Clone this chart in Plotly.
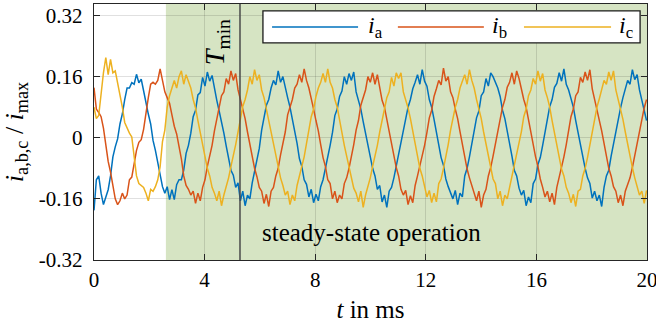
import plotly.graph_objects as go

# ---------------- data ----------------
DT_MS = 0.0854

i_a = [
    -0.19, -0.11, -0.10, -0.145, -0.175, -0.158, -0.136, -0.10, -0.05, -0.024,
    -0.003, 0.036, 0.062, 0.10, 0.13, 0.13, 0.144, 0.14, 0.166, 0.144,
    0.153, 0.123, 0.088, 0.062, 0.036, -0.007, -0.033, -0.067, -0.10, -0.128,
    -0.145, -0.128, -0.162, -0.136, -0.162, -0.123, -0.11, -0.11, -0.085, -0.041,
    -0.02,
    0.012, 0.055, 0.072, 0.112, 0.118, 0.158, 0.135, 0.172, 0.148, 0.163,
    0.128, 0.098, 0.07, 0.045, 0.012, -0.022, -0.05, -0.085, -0.098, -0.13,
    -0.118, -0.165, -0.14, -0.178, -0.15, -0.16, -0.118, -0.088, -0.06, -0.028,
    0.02, 0.05, 0.085, 0.1, 0.13, 0.15, 0.138, 0.175, 0.145, 0.16,
    0.13, 0.105, 0.08, 0.05, 0.018, -0.015, -0.055, -0.075, -0.11, -0.122,
    -0.155, -0.135, -0.17, -0.148, -0.165, -0.128, -0.11, -0.082, -0.05, -0.02,
    0.014, 0.058, 0.075, 0.108, 0.122, 0.16, 0.14, 0.168, 0.15, 0.172,
    0.12, 0.1, 0.075, 0.042, 0.01, -0.02, -0.05, -0.08, -0.1, -0.135,
    -0.125, -0.168, -0.15, -0.182, -0.14, -0.13, -0.105, -0.075, -0.045, -0.018,
    0.018, 0.045, 0.08, 0.1, 0.128, 0.145, 0.165, 0.14, 0.178, 0.148,
    0.135, 0.1, 0.08, 0.048, 0.015, -0.018, -0.052, -0.072, -0.108, -0.128,
    -0.145, -0.16, -0.138, -0.175, -0.145, -0.155, -0.1, -0.08, -0.05, -0.015,
    0.015, 0.052, 0.07, 0.11, 0.12, 0.155, 0.135, 0.17, 0.16, 0.145,
    0.13, 0.108, 0.072, 0.05, 0.02, -0.014, -0.048, -0.085, -0.1, -0.132,
    -0.15, -0.138, -0.178, -0.155, -0.17, -0.12, -0.108, -0.07, -0.052, -0.02,
    0.02, 0.048, 0.082, 0.1, 0.132, 0.142, 0.17, 0.148, 0.18, 0.14,
    0.125, 0.1, 0.08, 0.045, 0.012, -0.02, -0.045, -0.08, -0.105, -0.12,
    -0.158, -0.14, -0.165, -0.15, -0.18, -0.13, -0.1, -0.085, -0.048, -0.015,
    0.012, 0.055, 0.078, 0.105, 0.125, 0.15, 0.14, 0.178, 0.152, 0.165,
    0.125, 0.1, 0.075, 0.045,
]

i_b = [
    0.131, 0.075, 0.066, 0.055, 0.025, -0.02, -0.062, -0.09, -0.13, -0.16,
    -0.175, -0.165, -0.145, -0.16, -0.15, -0.11, -0.103, -0.07, -0.033, -0.012,
    -0.005, 0.022, 0.07, 0.105, 0.14, 0.145, 0.14, 0.15, 0.18, 0.145,
    0.12, 0.105, 0.09, 0.06, 0.03, 0.01, -0.02, -0.055, -0.1, -0.125,
    -0.135, -0.15, -0.14, -0.172, -0.145, -0.165, -0.13, -0.11, -0.075, -0.05, -0.02,
    0.018, 0.05, 0.075, 0.11, 0.12, 0.155, 0.14, 0.175, 0.15, 0.168,
    0.125, 0.1, 0.078, 0.05, 0.015, -0.02, -0.05, -0.08, -0.102, -0.13,
    -0.14, -0.172, -0.148, -0.18, -0.14, -0.13, -0.1, -0.08, -0.045, -0.015,
    0.015, 0.06, 0.08, 0.1, 0.13, 0.14, 0.165, 0.145, 0.18, 0.15,
    0.13, 0.105, 0.075, 0.045, 0.018, -0.018, -0.052, -0.075, -0.11, -0.12,
    -0.16, -0.14, -0.17, -0.15, -0.16, -0.12, -0.105, -0.08, -0.05, -0.018,
    0.02, 0.045, 0.085, 0.105, 0.125, 0.16, 0.145, 0.17, 0.14, 0.165,
    0.13, 0.098, 0.08, 0.048, 0.012, -0.015, -0.055, -0.078, -0.1, -0.135,
    -0.15, -0.138, -0.175, -0.152, -0.17, -0.125, -0.1, -0.075, -0.052, -0.02,
    0.014, 0.052, 0.072, 0.108, 0.128, 0.15, 0.138, 0.182, 0.148, 0.16,
    0.12, 0.105, 0.075, 0.05, 0.016, -0.02, -0.048, -0.082, -0.105, -0.125,
    -0.148, -0.165, -0.14, -0.182, -0.15, -0.135, -0.1, -0.078, -0.048, -0.015,
    0.018, 0.048, 0.08, 0.1, 0.132, 0.145, 0.17, 0.14, 0.175, 0.155,
    0.125, 0.1, 0.08, 0.045, 0.015, -0.018, -0.05, -0.075, -0.108, -0.13,
    -0.155, -0.14, -0.168, -0.145, -0.175, -0.13, -0.105, -0.08, -0.05, -0.018,
    0.015, 0.055, 0.075, 0.11, 0.12, 0.158, 0.145, 0.172, 0.15, 0.178,
    0.128, 0.102, 0.075, 0.048, 0.018, -0.015, -0.052, -0.08, -0.1, -0.128,
    -0.14, -0.17, -0.15, -0.178, -0.14, -0.125, -0.105, -0.078, -0.045, -0.02,
    0.016, 0.05, 0.078, 0.1,
]

i_c = [
    0.08, 0.05, 0.058, 0.12, 0.17, 0.21, 0.165, 0.205, 0.17, 0.175,
    0.145, 0.114, 0.08, 0.04, 0.025, 0.012, 0.002, -0.045, -0.1, -0.12,
    -0.125, -0.13, -0.145, -0.165, -0.135, -0.14, -0.128, -0.11, -0.076, -0.01,
    0.02, 0.08, 0.11, 0.13, 0.15, 0.13, 0.16, 0.175, 0.14, 0.165,
    0.148, 0.13, 0.1, 0.078, 0.045, 0.015, -0.018, -0.05, -0.08, -0.1,
    -0.13, -0.145, -0.165, -0.14, -0.178, -0.15, -0.13, -0.105, -0.075, -0.05, -0.018,
    0.015, 0.05, 0.082, 0.1, 0.125, 0.16, 0.14, 0.178, 0.15, 0.165,
    0.125, 0.105, 0.075, 0.048, 0.015, -0.018, -0.05, -0.08, -0.105, -0.125,
    -0.15, -0.14, -0.175, -0.15, -0.165, -0.125, -0.1, -0.08, -0.05, -0.015,
    0.018, 0.055, 0.075, 0.108, 0.13, 0.145, 0.168, 0.145, 0.18, 0.145,
    0.13, 0.1, 0.08, 0.045, 0.012, -0.02, -0.048, -0.078, -0.1, -0.132,
    -0.145, -0.168, -0.14, -0.182, -0.15, -0.13, -0.105, -0.075, -0.048, -0.02,
    0.015, 0.048, 0.078, 0.105, 0.12, 0.158, 0.135, 0.17, 0.155, 0.17,
    0.12, 0.102, 0.078, 0.05, 0.018, -0.015, -0.055, -0.08, -0.1, -0.128,
    -0.155, -0.138, -0.17, -0.145, -0.168, -0.12, -0.108, -0.08, -0.05, -0.018,
    0.02, 0.05, 0.08, 0.1, 0.13, 0.148, 0.165, 0.14, 0.178, 0.15,
    0.13, 0.1, 0.075, 0.05, 0.015, -0.018, -0.05, -0.075, -0.108, -0.12,
    -0.16, -0.14, -0.178, -0.15, -0.16, -0.13, -0.1, -0.078, -0.048, -0.015,
    0.016, 0.055, 0.075, 0.11, 0.125, 0.155, 0.14, 0.175, 0.148, 0.168,
    0.125, 0.105, 0.08, 0.045, 0.015, -0.02, -0.05, -0.082, -0.1, -0.13,
    -0.145, -0.17, -0.148, -0.18, -0.14, -0.135, -0.1, -0.08, -0.052, -0.018,
    0.015, 0.05, 0.08, 0.102, 0.128, 0.15, 0.14, 0.172, 0.15, 0.175,
    0.125, 0.1, 0.078, 0.048, 0.015, -0.018, -0.052, -0.078, -0.105, -0.125,
    -0.15, -0.14, -0.172, -0.138,
]

x_tick_vals = [0, 4, 8, 12, 16, 20]
x_tick_text = ["0", "4", "8", "12", "16", "20"]
y_tick_vals = [-0.32, -0.16, 0, 0.16, 0.32]
y_tick_text = ["-0.32", "-0.16", "0", "0.16", "0.32"]

series_names = ["<i>i</i><sub>a</sub>", "<i>i</i><sub>b</sub>", "<i>i</i><sub>c</sub>"]
series_colors = ["#0072BD", "#D95319", "#EDB120"]

steady_start_ms = 2.6
t_min_ms = 5.28

# ---------------- figure ----------------
n = min(len(i_a), len(i_b), len(i_c))
t_ms = [round(k * DT_MS, 4) for k in range(n)]

FONT = "Liberation Serif, Times New Roman, DejaVu Serif, serif"
AXC = "#262626"

fig = go.Figure()
for vals, color in zip([i_a, i_b, i_c], series_colors):
    fig.add_trace(go.Scatter(x=t_ms, y=vals[:n], mode="lines",
                             line=dict(color=color, width=1.5),
                             showlegend=False, hoverinfo="skip"))

YR = [-0.32, 0.35]

shapes = [
    dict(type="rect", xref="x", yref="paper", x0=steady_start_ms, x1=20, y0=0, y1=1,
         fillcolor="#d6e4c3", line=dict(width=0), layer="below"),
    dict(type="line", xref="x", yref="paper", x0=t_min_ms, x1=t_min_ms, y0=0, y1=1,
         line=dict(color="#4a4a4a", width=1.5), layer="above"),
]

# custom legend (box + long line samples)
leg_x0, leg_x1, leg_y0, leg_y1 = 6.11, 19.75, 0.248, 0.332
shapes.append(dict(type="rect", xref="x", yref="y", x0=leg_x0, x1=leg_x1, y0=leg_y0, y1=leg_y1,
                   fillcolor="white", line=dict(color="#1a1a1a", width=1.3), layer="above"))
leg_lines = [(6.44, 9.55, 9.85), (10.99, 14.1, 14.32), (15.55, 18.7, 18.92)]
annotations = []
leg_y = 0.29
for (a, b, lx), color, name in zip(leg_lines, series_colors, series_names):
    shapes.append(dict(type="line", xref="x", yref="y", x0=a, x1=b, y0=leg_y, y1=leg_y,
                       line=dict(color=color, width=1.5), layer="above"))
    annotations.append(dict(x=lx, y=leg_y, xref="x", yref="y", text=name, showarrow=False,
                            xanchor="left", yanchor="middle",
                            font=dict(family=FONT, size=24, color="black")))

annotations.append(dict(x=4.41, y=0.25, xref="x", yref="y", text="<i>T</i><sub>min</sub>",
                        textangle=-90, showarrow=False, xanchor="center", yanchor="middle",
                        font=dict(family=FONT, size=28, color="black")))
annotations.append(dict(x=10.05, y=-0.249, xref="x", yref="y", text="steady-state operation",
                        showarrow=False, xanchor="center", yanchor="middle",
                        font=dict(family=FONT, size=25, color="black")))

fig.update_layout(
    width=656, height=326,
    margin=dict(l=94, r=9, t=4, b=66),
    paper_bgcolor="white", plot_bgcolor="white",
    font=dict(family=FONT, size=20, color="black"),
    shapes=shapes, annotations=annotations,
    showlegend=False,
    xaxis=dict(range=[0, 20], tickvals=x_tick_vals, ticktext=x_tick_text,
               ticks="inside", ticklen=6, tickwidth=1.2, tickcolor=AXC,
               showline=True, linecolor=AXC, linewidth=1.4, mirror="ticks",
               showgrid=True, gridcolor="rgba(0,0,0,0.12)", gridwidth=1,
               zeroline=False, automargin=False, ticklabeloverflow="allow",
               tickfont=dict(family=FONT, size=21, color="black"),
               title=dict(text="<i>t</i> in ms", font=dict(family=FONT, size=25, color="black"),
                          standoff=10)),
    yaxis=dict(range=YR, tickvals=y_tick_vals, ticktext=y_tick_text,
               ticks="inside", ticklen=6, tickwidth=1.2, tickcolor=AXC,
               showline=True, linecolor=AXC, linewidth=1.4, mirror="ticks",
               showgrid=True, gridcolor="rgba(0,0,0,0.12)", gridwidth=1,
               zeroline=False, automargin=False, ticklabelstandoff=6,
               ticklabeloverflow="allow",
               tickfont=dict(family=FONT, size=21, color="black"),
               title=dict(text="<i>i</i><sub>a,b,c</sub> / <i>i</i><sub>max</sub>",
                          font=dict(family=FONT, size=26, color="black"), standoff=8)),
)

fig.write_html("out.html", config={"displayModeBar": False, "staticPlot": True},
               post_script="document.body.style.margin='0px';document.body.style.overflow='hidden';")
